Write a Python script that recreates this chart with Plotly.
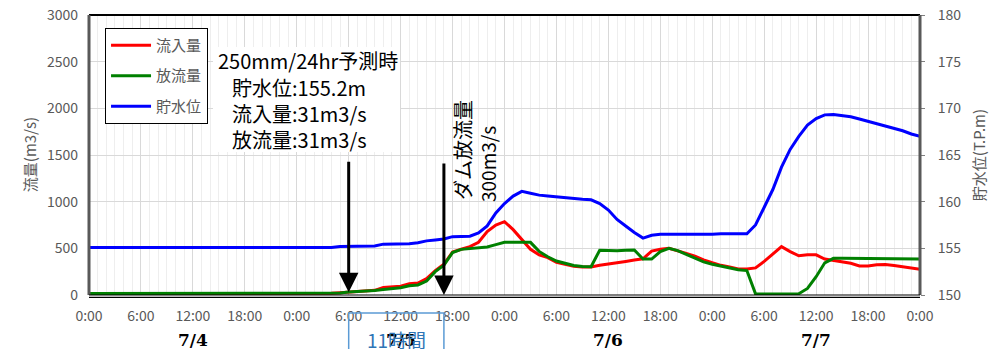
import plotly.graph_objects as go

hours = list(range(0, 97))
tick_hours = list(range(0, 97, 6))
tick_labels = ["0:00", "6:00", "12:00", "18:00"] * 4 + ["0:00"]
date_hours = [12, 36, 60, 84]
date_labels = ["7/4", "7/5", "7/6", "7/7"]

inflow = [15] * 27 + [
    15, 18, 25, 31, 38, 45, 50, 80, 85, 95, 120, 128, 175, 260,   # h27-40
    330, 460, 490, 518, 565, 680, 750, 786, 700, 590, 490, 430,    # h41-52
    400, 350, 330, 308, 300, 300, 318, 330, 345, 360, 375, 388,    # h53-64
    470, 490, 500, 475, 446, 415, 375, 345, 318, 300, 278, 278,    # h65-76
    290, 360, 440, 518, 465, 420, 430, 430, 385, 372, 360, 340,    # h77-88
    311, 311, 325, 328, 315, 300, 288, 275]                         # h89-96

outflow = [15] * 28 + [
    15, 22, 31, 35, 40, 48, 60, 65, 78, 100, 108, 150, 250,        # h28-40
    320, 455, 489, 497, 500, 515, 540, 564, 564, 564, 564, 467,    # h41-52
    410, 364, 340, 316, 305, 304, 480, 475, 475, 480, 482, 385,    # h53-64
    385, 465, 500, 475, 435, 395, 355, 330, 310, 290, 270, 262,    # h65-76
    12, 12, 12, 12, 12, 14, 70, 196, 345, 393, 393, 393,           # h77-88
    393, 393, 393, 393, 393, 388, 386, 385]                         # h89-96

level = [155.1] * 29 + [
    155.2, 155.2, 155.2, 155.2, 155.25, 155.45, 155.45, 155.45,   # h29-36
    155.5, 155.6, 155.8, 155.9, 156.0, 156.25, 156.25, 156.3,      # h37-44
    156.65, 157.4, 158.8, 159.8, 160.6, 161.1, 160.9, 160.7,       # h45-52
    160.6, 160.5, 160.4, 160.3, 160.25, 160.2, 159.8, 159.1,       # h53-60
    158.1, 157.4, 156.7, 156.1, 156.4, 156.5, 156.5, 156.5,        # h61-68
    156.45, 156.45, 156.5, 156.5, 156.55, 156.55, 156.55, 156.55,  # h69-76
    157.5, 159.4, 161.3, 163.7, 165.6, 167.0, 168.2, 168.9,        # h77-84
    169.3, 169.35, 169.2, 169.1, 168.85, 168.6, 168.35, 168.1,     # h85-92
    167.8, 167.6, 167.25, 167.0]                                    # h93-96

JP = "Noto Sans CJK JP"
GRAY = "#595959"

fig = go.Figure()
fig.add_trace(go.Scatter(x=hours, y=inflow, name="流入量", mode="lines",
                         line=dict(color="#FF0000", width=3), legendgroup="a"))
fig.add_trace(go.Scatter(x=hours, y=outflow, name="放流量", mode="lines",
                         line=dict(color="#008000", width=3), legendgroup="b"))
fig.add_trace(go.Scatter(x=hours, y=level, name="貯水位", mode="lines", yaxis="y2",
                         line=dict(color="#0000FF", width=3), legendgroup="c"))

fig.update_layout(
    width=1002, height=349,
    margin=dict(l=89, r=82, t=15, b=54, autoexpand=False),
    plot_bgcolor="white", paper_bgcolor="white",
    font=dict(family=JP, color=GRAY),
    xaxis=dict(range=[0, 96], tickmode="array", tickvals=tick_hours, ticktext=tick_labels,
               showgrid=True, gridcolor="#d9d9d9", gridwidth=1,
               minor=dict(tickmode="linear", tick0=0, dtick=1, showgrid=True,
                          gridcolor="#eeeeee", gridwidth=1),
               ticks="", tickfont=dict(size=14, color=GRAY, family=JP),
               zeroline=False, showline=False, ticklabelstandoff=11),
    yaxis=dict(range=[0, 3000], dtick=500, showgrid=True, gridcolor="#d9d9d9",
               ticks="", tickfont=dict(size=14, color=GRAY, family=JP),
               zeroline=False, showline=False, ticklabelstandoff=10),
    yaxis2=dict(range=[150, 180], dtick=5, overlaying="y", side="right", showgrid=False,
                ticks="outside", ticklen=4, tickcolor="#808080",
                tickfont=dict(size=14, color=GRAY, family=JP),
                zeroline=False, showline=False, ticklabelstandoff=10),
    showlegend=True,
    legend=dict(x=0.0193, y=0.954, xanchor="left", yanchor="top",
                bgcolor="white", bordercolor="black", borderwidth=1,
                font=dict(size=15, color=GRAY, family=JP),
                traceorder="grouped", tracegroupgap=8, itemwidth=40),
)

# frame
fig.add_shape(type="line", xref="paper", yref="paper", x0=0, x1=1, y0=1, y1=1,
              line=dict(color="black", width=2))
fig.add_shape(type="line", xref="paper", yref="paper", x0=0, x1=0, y0=0, y1=1,
              line=dict(color="#595959", width=3))
fig.add_shape(type="line", xref="paper", yref="paper", x0=1, x1=1, y0=0, y1=1,
              line=dict(color="#595959", width=3))
fig.add_shape(type="line", xref="paper", yref="paper", x0=0, x1=1, y0=0, y1=0,
              line=dict(color="black", width=1.2))
fig.add_shape(type="line", xref="paper", yref="paper", x0=0, x1=1, y0=-0.0085, y1=-0.0085,
              line=dict(color="black", width=1.2))

# white background for the prediction text block
fig.add_shape(type="rect", xref="paper", yref="paper",
              x0=(213 - 89) / 831, x1=(400 - 89) / 831,
              y0=(295 - 152) / 280, y1=(295 - 47) / 280,
              line=dict(width=0), fillcolor="white", layer="above")

# axis titles
fig.add_annotation(text="流量(m3/s)", xref="paper", yref="paper", x=-0.072, y=0.5,
                   xanchor="center", yanchor="middle", textangle=-90, showarrow=False,
                   font=dict(size=15, color=GRAY, family=JP))
fig.add_annotation(text="貯水位(T.P.m)", xref="paper", yref="paper", x=1.07, y=0.5,
                   xanchor="center", yanchor="middle", textangle=-90, showarrow=False,
                   font=dict(size=15, color=GRAY, family=JP))

# dates
for h, d in zip(date_hours, date_labels):
    fig.add_annotation(text="<b>%s</b>" % d, x=h, xref="x", yref="paper", y=0,
                       yshift=-45, yanchor="middle", showarrow=False,
                       font=dict(size=17, color="black", family="DejaVu Serif"))

# 11時間 box
fig.add_shape(type="rect", xref="x", yref="paper", x0=30, x1=41, y0=-0.064, y1=-0.3,
              line=dict(color="#5B9BD5", width=1.5), fillcolor="rgba(0,0,0,0)")
fig.add_annotation(text="11時間", x=35.5, xref="x", yref="paper", y=0, yshift=-44,
                   yanchor="middle", showarrow=False,
                   font=dict(size=19, color="#2E75B6", family=JP))

# prediction text
note_lines = ["250mm/24hr予測時", "貯水位:155.2m", "流入量:31m3/s", "放流量:31m3/s"]
note_x = [217, 231, 231, 231]
note_y = [61, 88, 114, 139]
for t, px, py in zip(note_lines, note_x, note_y):
    fig.add_annotation(text=t, xref="paper", yref="paper",
                       x=(px - 89) / 831, y=(295 - py) / 280,
                       xanchor="left", yanchor="middle", showarrow=False,
                       borderpad=0, font=dict(size=20, color="black", family=JP))

# dam discharge text
fig.add_annotation(text="ダム放流量", xref="paper", yref="paper", x=(462 - 89) / 831,
                   y=(295 - 150) / 280, xanchor="center", yanchor="middle", textangle=-90,
                   showarrow=False, font=dict(size=20, color="black", family=JP))
fig.add_annotation(text="300m3/s", xref="paper", yref="paper", x=(487 - 89) / 831,
                   y=(295 - 164) / 280, xanchor="center", yanchor="middle", textangle=-90,
                   showarrow=False, font=dict(size=19, color="black", family=JP))

# arrows
fig.add_annotation(text="", x=30, y=30, xref="x", yref="y", ax=0, ay=-132,
                   showarrow=True, arrowhead=2, arrowsize=1.3, arrowwidth=3,
                   arrowcolor="black", standoff=0)
fig.add_annotation(text="", x=41, y=0, xref="x", yref="y", ax=0, ay=-133,
                   showarrow=True, arrowhead=2, arrowsize=1.3, arrowwidth=3,
                   arrowcolor="black", standoff=0)

fig.write_html("out.html", config={"displayModeBar": False},
               post_script="document.body.style.margin='0';document.body.style.overflow='hidden';")
